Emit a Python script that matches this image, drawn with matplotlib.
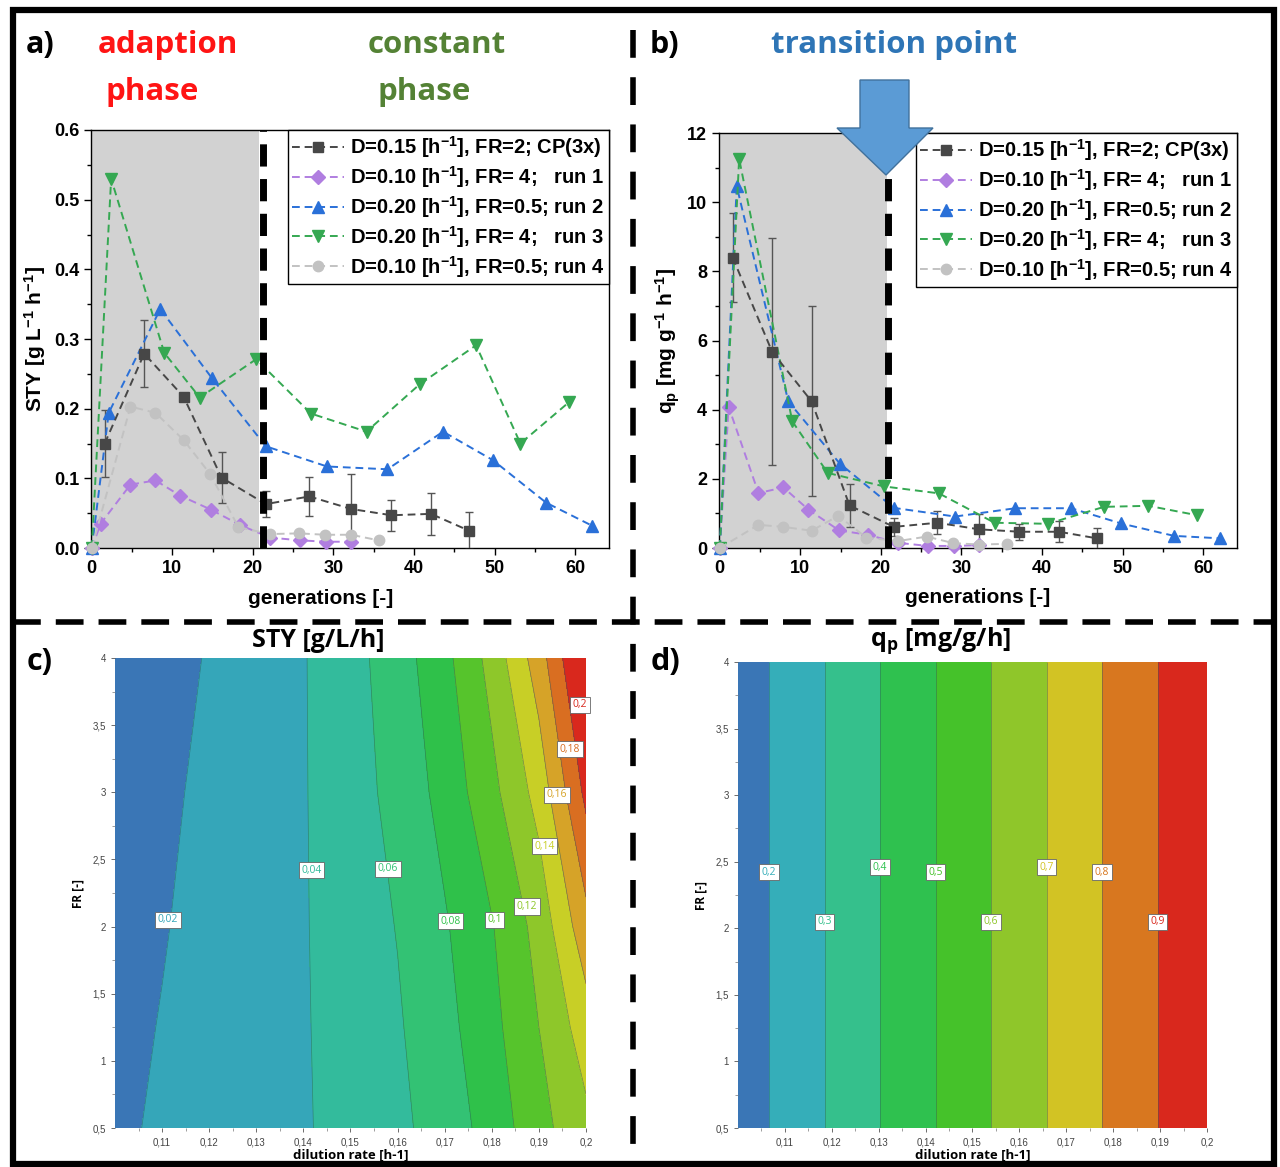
import numpy as np
import matplotlib
matplotlib.use("Agg")
import matplotlib.pyplot as plt
from matplotlib.lines import Line2D
from matplotlib.patches import Polygon, Rectangle
from matplotlib.colors import ListedColormap, BoundaryNorm

plt.rcParams['font.family'] = ['Liberation Sans', 'DejaVu Sans']
plt.rcParams['mathtext.fontset'] = 'custom'
plt.rcParams['mathtext.rm'] = 'Liberation Sans:bold'
plt.rcParams['mathtext.bf'] = 'Liberation Sans:bold'
plt.rcParams['mathtext.it'] = 'Liberation Sans:bold:italic'
plt.rcParams['mathtext.default'] = 'rm'

W, H = 1280, 1167

# ---------------------------------------------------------------------------
# data panels a) and b)  (generations, STY, qp)
# ---------------------------------------------------------------------------
cp_gen = [1.6, 6.5, 11.4, 16.1, 21.6, 27.0, 32.2, 37.2, 42.1, 46.8]
cp_sty = [0.150, 0.279, 0.217, 0.101, 0.063, 0.074, 0.056, 0.047, 0.049, 0.025]
cp_sty_err = [0.048, 0.048, 0.0, 0.037, 0.019, 0.028, 0.050, 0.022, 0.030, 0.026]
cp_qp = [8.40, 5.67, 4.24, 1.23, 0.61, 0.73, 0.54, 0.47, 0.47, 0.28]
cp_qp_err = [1.30, 3.28, 2.75, 0.62, 0.25, 0.33, 0.45, 0.23, 0.30, 0.30]

run1_gen = [0, 1.1, 4.8, 7.9, 11.0, 14.8, 18.4, 22.1, 25.8, 29.1, 32.2]
run1_sty = [0, 0.035, 0.091, 0.097, 0.075, 0.055, 0.033, 0.015, 0.011, 0.009, 0.009]
run1_qp = [0, 4.08, 1.59, 1.75, 1.11, 0.51, 0.38, 0.15, 0.06, 0.06, 0.08]

run2_gen = [0, 2.1, 8.5, 14.9, 21.6, 29.2, 36.7, 43.6, 49.8, 56.4, 62.1]
run2_sty = [0, 0.194, 0.343, 0.244, 0.146, 0.117, 0.113, 0.167, 0.126, 0.065, 0.032]
run2_qp = [0, 10.46, 4.24, 2.44, 1.16, 0.91, 1.15, 1.15, 0.71, 0.35, 0.28]

run3_gen = [0, 2.4, 9.0, 13.4, 20.4, 27.2, 34.1, 40.7, 47.7, 53.2, 59.2]
run3_sty = [0, 0.530, 0.280, 0.216, 0.271, 0.193, 0.167, 0.235, 0.291, 0.150, 0.209]
run3_qp = [0, 11.25, 3.66, 2.17, 1.78, 1.58, 0.73, 0.70, 1.19, 1.22, 0.95]

run4_gen = [0, 4.8, 7.9, 11.4, 14.7, 18.2, 22.1, 25.7, 29.0, 32.2, 35.6]
run4_sty = [0, 0.203, 0.194, 0.155, 0.106, 0.030, 0.020, 0.021, 0.019, 0.019, 0.011]
run4_qp = [0, 0.67, 0.61, 0.50, 0.93, 0.30, 0.20, 0.33, 0.14, 0.10, 0.12]

labels = [r'D=0.15 [h$^{-1}$], FR=2; CP(3x)',
          r'D=0.10 [h$^{-1}$], FR= 4;   run 1',
          r'D=0.20 [h$^{-1}$], FR=0.5; run 2',
          r'D=0.20 [h$^{-1}$], FR= 4;   run 3',
          r'D=0.10 [h$^{-1}$], FR=0.5; run 4']
colors = ['#474747', '#b07ee0', '#2a70d8', '#35a852', '#c2c2c2']
markers = ['s', 'D', '^', 'v', 'o']
msizes = [7.5, 7.5, 8.5, 8.5, 7.5]

transition_gen = 21.0

# ---------------------------------------------------------------------------
# data panels c) and d)  (response surfaces read off the contour plots)
# ---------------------------------------------------------------------------
dil_rate = [0.10, 0.11, 0.12, 0.13, 0.14, 0.15, 0.16, 0.17, 0.18, 0.19, 0.20]
fr_vals = [0.5, 1.25, 2.0, 3.0, 4.0]
sty_grid = [
    [0.017, 0.0223, 0.0276, 0.0330, 0.0383, 0.0463, 0.0555, 0.0688, 0.0881, 0.1132, 0.135],
    [0.0149, 0.0208, 0.0267, 0.0326, 0.0385, 0.0477, 0.0579, 0.0736, 0.0941, 0.120, 0.150],
    [0.0123, 0.0189, 0.0255, 0.0321, 0.0387, 0.0491, 0.0608, 0.0779, 0.0987, 0.1269, 0.173],
    [0.008, 0.0164, 0.0239, 0.0313, 0.0388, 0.0513, 0.0665, 0.0867, 0.1143, 0.1473, 0.205],
    [0.004, 0.012, 0.0215, 0.0303, 0.0389, 0.0529, 0.0706, 0.0942, 0.1269, 0.1705, 0.229],
]
sty_levels = [0.02, 0.04, 0.06, 0.08, 0.10, 0.12, 0.14, 0.16, 0.18, 0.20]
sty_colors = ['#3a76b6', '#35a6b9', '#33bb9c', '#33c274', '#2fc14a', '#56c42c',
              '#8ec72a', '#c8cf26', '#d6a328', '#d96e21', '#d9281d']

qp_rate = [0.10, 0.20]
qp_fr = [0.5, 4.0]
qp_grid = [[0.144, 0.989],
           [0.144, 0.989]]
qp_levels = [0.2, 0.3, 0.4, 0.5, 0.6, 0.7, 0.8, 0.9]
qp_colors = ['#3a76b6', '#35aeb9', '#35c08c', '#2fc14f', '#45c22a', '#8fc62a',
             '#d2c324', '#d8771f', '#d9281d']

# ---------------------------------------------------------------------------
fig = plt.figure(figsize=(W / 100, H / 100), dpi=100)


def fax(l, t, r, b):
    return fig.add_axes([l / W, 1 - b / H, (r - l) / W, (b - t) / H])


series = [
    (cp_gen, cp_sty, cp_qp, cp_sty_err, cp_qp_err),
    (run1_gen, run1_sty, run1_qp, None, None),
    (run2_gen, run2_sty, run2_qp, None, None),
    (run3_gen, run3_sty, run3_qp, None, None),
    (run4_gen, run4_sty, run4_qp, None, None),
]

ax_a = fax(91, 130, 609, 548)
ax_b = fax(719, 133, 1237, 548)

for ax, col, ylim, ylab in [(ax_a, 1, (0, 0.6), r'STY [g L$^{-1}$ h$^{-1}$]'),
                            (ax_b, 2, (0, 12), r'q$_\mathregular{p}$ [mg g$^{-1}$ h$^{-1}$]')]:
    ax.axvspan(0, transition_gen - 0.3, color='#d2d2d2', zorder=0, lw=0)
    handles = []
    for i, s in enumerate(series):
        gen, val = s[0], s[col]
        err = s[col + 2] if s[3] is not None else None
        ln, = ax.plot(gen, val, ls=(0, (4, 2.5)), lw=1.4, color=colors[i],
                      marker=markers[i], ms=msizes[i], mec=colors[i], mfc=colors[i],
                      clip_on=False, zorder=3.5 if i == 0 else 3 + i * 0.1)
        if err is not None:
            ax.errorbar(gen, val, yerr=err, fmt='none', ecolor='#555555', elinewidth=1,
                        capsize=3, capthick=1, zorder=3)
        handles.append(ln)
    ax.set_xlim(-0.1, 64.2)
    ax.set_ylim(*ylim)
    ax.set_xticks([0, 10, 20, 30, 40, 50, 60])
    ax.set_xticks(np.arange(5, 64, 10), minor=True)
    ax.set_ylabel(ylab, fontsize=15, fontweight='bold', labelpad=4)
    ax.set_xlabel('generations [-]', fontsize=15, fontweight='bold', labelpad=8)
    leg = ax.legend(handles, labels, loc='upper right', frameon=True,
                    fancybox=False, edgecolor='black', framealpha=1, borderpad=0.2,
                    labelspacing=0.2, handlelength=2.6, handletextpad=0.3,
                    borderaxespad=0.0, prop={'weight': 'bold', 'size': 14.5})
    leg.get_frame().set_linewidth(1.0)
    ax.tick_params(axis='both', which='major', direction='out', length=5, width=1,
                   labelsize=13)
    ax.tick_params(axis='both', which='minor', direction='out', length=3, width=1)
    for s in ax.spines.values():
        s.set_linewidth(1.0)

ax_a.xaxis.set_label_coords(0.444, -0.098)
ax_a.set_yticks([0, 0.1, 0.2, 0.3, 0.4, 0.5, 0.6])
ax_a.set_yticklabels(['0.0', '0.1', '0.2', '0.3', '0.4', '0.5', '0.6'])
ax_a.set_yticks(np.arange(0.05, 0.6, 0.1), minor=True)
ax_b.set_yticks([0, 2, 4, 6, 8, 10, 12])
ax_b.set_yticks(np.arange(1, 12, 2), minor=True)
for ax in (ax_a, ax_b):
    for lab in ax.get_xticklabels() + ax.get_yticklabels():
        lab.set_fontweight('bold')

# thick dashed transition lines
ax_a.plot([transition_gen + 0.2, transition_gen + 0.2], [0, 0.6], color='black', lw=5,
          ls=(0, (3.2, 1.8)), zorder=5)
ax_b.plot([transition_gen - 0.1, transition_gen - 0.1], [0, 10.8], color='black', lw=5,
          ls=(0, (3.2, 1.8)), zorder=5)

# ---------------------------------------------------------------------------
# contour panels
# ---------------------------------------------------------------------------
def fmt_comma(v):
    return f"{v:g}".replace('.', ',')


def style_contour_axes(ax):
    ax.set_xlim(0.10, 0.20)
    ax.set_ylim(0.5, 4.0)
    ax.set_xticks(np.arange(0.11, 0.2001, 0.01))
    ax.set_xticklabels([fmt_comma(round(v, 2)) for v in np.arange(0.11, 0.2001, 0.01)])
    ax.set_xticks(np.arange(0.105, 0.2, 0.01), minor=True)
    ax.set_yticks([0.5, 1, 1.5, 2, 2.5, 3, 3.5, 4])
    ax.set_yticklabels([fmt_comma(v) for v in [0.5, 1, 1.5, 2, 2.5, 3, 3.5, 4]])
    ax.set_yticks(np.arange(0.75, 4, 0.5), minor=True)
    ax.tick_params(axis='both', which='major', labelsize=7, colors='#555555',
                   length=3, width=0.6, labelcolor='#444444')
    ax.tick_params(axis='both', which='minor', length=2, width=0.5, colors='#777777')
    for s in ax.spines.values():
        s.set_visible(False)
    ax.set_xlabel('dilution rate [h-1]', fontsize=9.5, fontweight='bold',
                  family=['Open Sans', 'DejaVu Sans'], labelpad=1)
    ax.set_ylabel('FR [-]', fontsize=8.5, fontweight='bold',
                  family=['Open Sans', 'DejaVu Sans'], labelpad=6)


def label_box(ax, x, y, txt, col):
    ax.text(x, y, txt, fontsize=7.5, color=col, ha='center', va='center', zorder=6,
            family=['Open Sans', 'DejaVu Sans'],
            bbox=dict(boxstyle='square,pad=0.25', facecolor='white',
                      edgecolor='#666666', linewidth=0.6))


ax_c = fax(115, 658, 586, 1128)
DD, FF = np.meshgrid(dil_rate, fr_vals)
bounds_c = [-1] + sty_levels + [1]
ax_c.contourf(DD, FF, np.array(sty_grid), levels=bounds_c,
              cmap=ListedColormap(sty_colors), norm=BoundaryNorm(bounds_c, len(sty_colors)))
ax_c.contour(DD, FF, np.array(sty_grid), levels=sty_levels, colors='#2c5f5f',
             linewidths=0.5, alpha=0.6)
style_contour_axes(ax_c)
sty_label_pos = [(0.1112, 2.05), (0.1417, 2.42), (0.1580, 2.43), (0.1712, 2.04),
                 (0.1806, 2.05), (0.1875, 2.15), (0.1912, 2.6), (0.1938, 2.98),
                 (0.1966, 3.32), (0.1987, 3.65)]
for lev, (x, y), c in zip(sty_levels, sty_label_pos, sty_colors[1:]):
    label_box(ax_c, x, y, fmt_comma(lev), c)

ax_d = fax(738, 662, 1207, 1128)
QD, QF = np.meshgrid(qp_rate, qp_fr)
bounds_d = [-1] + qp_levels + [2]
ax_d.contourf(QD, QF, np.array(qp_grid), levels=bounds_d,
              cmap=ListedColormap(qp_colors), norm=BoundaryNorm(bounds_d, len(qp_colors)))
ax_d.contour(QD, QF, np.array(qp_grid), levels=qp_levels, colors='#2c5f5f',
             linewidths=0.5, alpha=0.6)
style_contour_axes(ax_d)
qp_label_y = [2.42, 2.05, 2.46, 2.42, 2.05, 2.46, 2.42, 2.05]
for lev, y, c in zip(qp_levels, qp_label_y, qp_colors[1:]):
    x = np.interp(lev, qp_grid[0], qp_rate)
    label_box(ax_d, x, y, fmt_comma(lev), c)

# ---------------------------------------------------------------------------
# headings and annotations
# ---------------------------------------------------------------------------
hfont = ['Open Sans', 'DejaVu Sans']


def ftext(x, y, s, **kw):
    fig.text(x / W, 1 - y / H, s, family=hfont, fontweight='bold', **kw)


ftext(40, 45, 'a)', fontsize=22, ha='center', va='center')
ftext(168, 45, 'adaption', fontsize=22.5, color='#ff1414', ha='center', va='center')
ftext(152, 92, 'phase', fontsize=22.5, color='#ff1414', ha='center', va='center')
ftext(437, 45, 'constant', fontsize=22.5, color='#548235', ha='center', va='center')
ftext(424, 92, 'phase', fontsize=22.5, color='#548235', ha='center', va='center')
ftext(664, 45, 'b)', fontsize=22, ha='center', va='center')
ftext(894, 45, 'transition point', fontsize=22.5, color='#2e75b6', ha='center', va='center')
ftext(40, 662, 'c)', fontsize=22, ha='center', va='center')
ftext(665, 662, 'd)', fontsize=22, ha='center', va='center')
ftext(318, 641, 'STY [g/L/h]', fontsize=18, ha='center', va='center')
ftext(940, 641, r'q$_\mathregular{p}$ [mg/g/h]', fontsize=18, ha='center', va='center')

# block arrow at the transition point
arrow_px = [(860, 80), (909, 80), (909, 128), (933, 128), (886, 175),
            (837, 128), (860, 128)]
fig.add_artist(Polygon([(x / W, 1 - y / H) for x, y in arrow_px], closed=True,
                       transform=fig.transFigure, facecolor='#5b9bd5',
                       edgecolor='#41719c', linewidth=1.0, zorder=10))

# outer frame and dashed separators
fig.add_artist(Rectangle((13 / W, 1 - 1164 / H), (1274 - 13) / W, (1164 - 10) / H,
                         transform=fig.transFigure, fill=False, edgecolor='black',
                         linewidth=4.5, zorder=20))
fig.add_artist(Line2D([633 / W, 633 / W], [1 - 30 / H, 1 - 1164 / H],
                      transform=fig.transFigure, color='black', lw=4,
                      ls=(0, (5, 3.5)), zorder=20))
fig.add_artist(Line2D([13 / W, 1274 / W], [1 - 622 / H, 1 - 622 / H],
                      transform=fig.transFigure, color='black', lw=4,
                      ls=(0, (5, 2.7)), zorder=20))

fig.savefig('out.png', dpi=100)
